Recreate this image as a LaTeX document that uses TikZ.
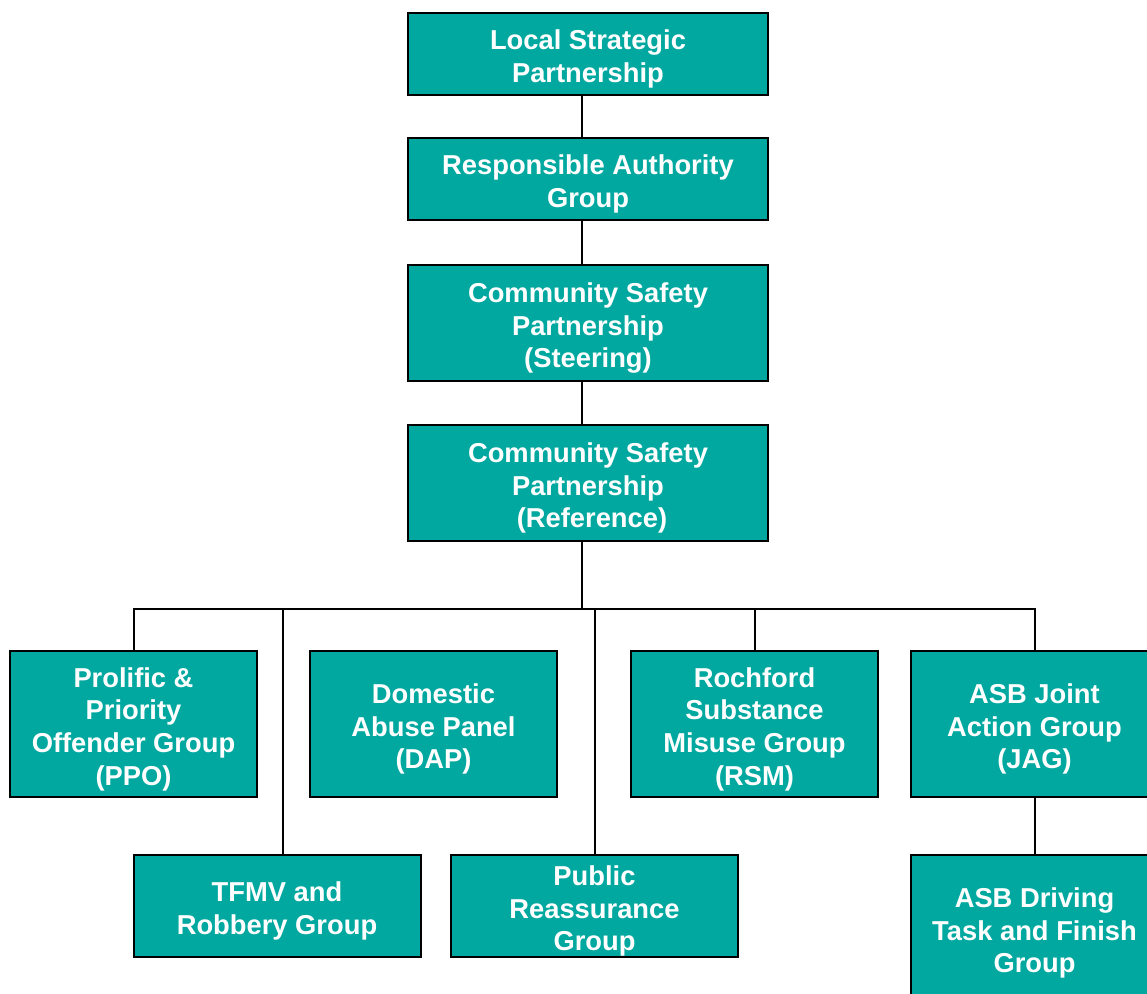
\documentclass[tikz,border=0pt]{standalone}
\usepackage{fontspec}
\setmainfont{Liberation Sans}
\definecolor{teal1}{RGB}{0,168,160}
\newcommand{\topstrut}{\rule{0pt}{22.5pt}}
\begin{document}
\begin{tikzpicture}[x=0.75pt,y=-0.75pt,
  box/.style={draw=black, line width=1.5pt, fill=teal1, text=white, align=center,
    font=\fontsize{20.5}{24.5}\selectfont\bfseries, inner sep=0pt},
  big/.style={box, minimum width=270pt, minimum height=61.5pt},
  bigt/.style={box, minimum width=270pt, minimum height=87pt},
  small/.style={box, minimum width=185.25pt, minimum height=109.5pt},
  low/.style={box, minimum width=215.25pt, minimum height=76.5pt},
  link/.style={draw=black, line width=1.5pt}]
\clip (0,0) rectangle (1147,994);
\useasboundingbox (0,0) rectangle (1147,994);
\node[big]  (lsp) at (588,54)  {\topstrut Local Strategic\\Partnership};
\node[big]  (rag) at (588,179) {\topstrut Responsible Authority\\Group};
\node[bigt] (ste) at (588,323) {\topstrut Community Safety\\Partnership\\(Steering)};
\node[bigt] (ref) at (588,483) {\topstrut Community Safety\\Partnership\\\hspace*{6pt}(Reference)};
\node[small] (ppo) at (133.5,724) {\topstrut Prolific \&\\Priority\\Offender Group\\(PPO)};
\node[small] (dap) at (433.5,724) {\topstrut Domestic\\Abuse Panel\\(DAP)};
\node[small] (rsm) at (754.5,724) {\topstrut Rochford\\Substance\\Misuse Group\\(RSM)};
\node[small] (jag) at (1034.5,724) {\topstrut ASB Joint\\Action Group\\(JAG)};
\node[low] (tfmv) at (277,906) {\topstrut TFMV and\\Robbery Group};
\node[low] (pub) at (594.5,906) {\topstrut Public\\Reassurance\\Group};
\node[small] (asbd) at (1034.5,928) {\topstrut ASB Driving\\Task and Finish\\Group};
\coordinate (sp) at (582,0);
\coordinate (bus) at (582,609);
\coordinate (tf) at (283,0);
\draw[link] (lsp.south -| sp) -- (rag.north -| sp);
\draw[link] (rag.south -| sp) -- (ste.north -| sp);
\draw[link] (ste.south -| sp) -- (ref.north -| sp);
\draw[link] (ref.south -| sp) -- (bus);
\draw[link] (ppo.north) |- (bus) -| (jag.north);
\draw[link] (rsm.north) -- (rsm.north |- bus);
\draw[link] (tfmv.north -| tf) -- (tf |- bus);
\draw[link] (pub.north) -- (pub.north |- bus);
\draw[link] (jag.south) -- (asbd.north);
\end{tikzpicture}
\end{document}
